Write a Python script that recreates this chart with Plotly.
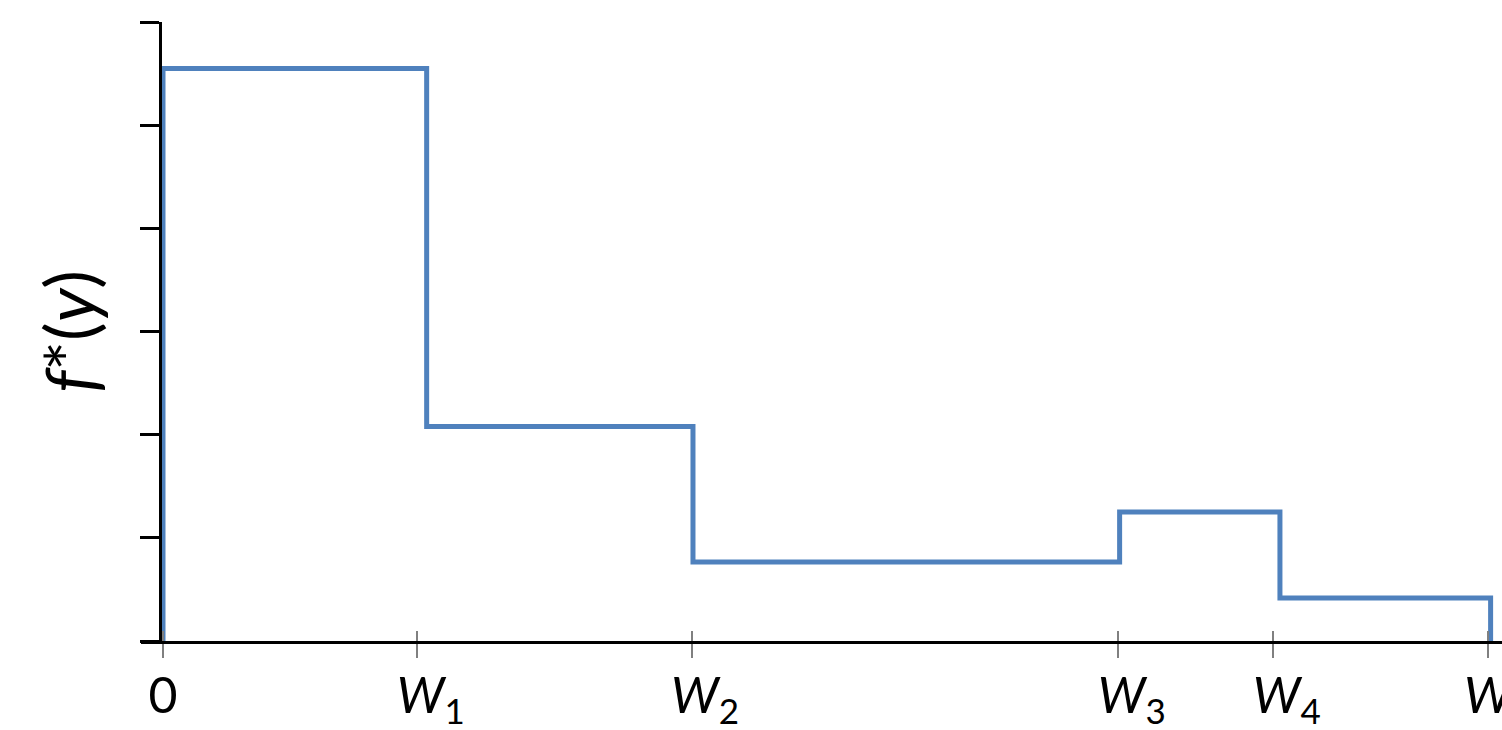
import plotly.graph_objects as go

# Step function: breakpoints along y (normalized so that W = 10) and levels of f*(y)
breakpoints = [0.0, 1.99, 4.0, 7.22, 8.43, 10.02]
levels = [5.55, 2.08, 0.765, 1.25, 0.417]

# Axis ticks
x_tickvals = [0.0, 1.92, 3.99, 7.21, 8.38, 10.0]
PAD = "<sub>&nbsp;&nbsp;&nbsp;</sub>"
x_ticktext = ["0", PAD + "<i>W</i><sub>1</sub>", PAD + "<i>W</i><sub>2</sub>",
              PAD + "<i>W</i><sub>3</sub>", PAD + "<i>W</i><sub>4</sub>", "<i>W</i>"]
y_tickvals = [0, 1, 2, 3, 4, 5, 6]

# build step polyline (hv)
xs = [breakpoints[0]] + breakpoints[:-1] + [breakpoints[-1]]
ys = [0] + levels + [0]

BLUE = "#4F81BD"
FONT = "Lato"

fig = go.Figure()
fig.add_trace(go.Scatter(x=xs, y=ys, mode="lines", line=dict(color=BLUE, width=5, shape="hv"),
                         showlegend=False, hoverinfo="skip"))

xrange = [-0.166, 10.106]
fig.update_layout(
    width=1502, height=730,
    margin=dict(l=141, r=0, t=22, b=89, autoexpand=False),
    paper_bgcolor="white", plot_bgcolor="white",
    font=dict(family=FONT, color="black", size=50),
    xaxis=dict(
        range=xrange, domain=[0, 1], anchor="y", automargin=False,
        showline=True, linecolor="black", linewidth=3,
        showgrid=False, zeroline=False,
        tickmode="array", tickvals=x_tickvals, ticktext=x_ticktext,
        ticks="outside", ticklen=14, tickwidth=2, tickcolor="#808080",
        tickfont=dict(family=FONT, size=50, color="black"),
        ticklabelstandoff=-5, ticklabeloverflow="allow",
    ),
    xaxis2=dict(
        range=xrange, overlaying="x", anchor="y", side="bottom", automargin=False,
        showline=False, showgrid=False, zeroline=False,
        tickmode="array", tickvals=x_tickvals, showticklabels=False,
        ticks="inside", ticklen=10, tickwidth=2, tickcolor="#808080",
    ),
    yaxis=dict(
        range=[0, 6], anchor="free", position=19 / 1361, automargin=False,
        showline=True, linecolor="black", linewidth=3,
        showgrid=False, zeroline=False,
        tickmode="array", tickvals=y_tickvals, showticklabels=False,
        ticks="outside", ticklen=19, tickwidth=3, tickcolor="black",
        title=dict(text="<i>f</i>*(<i>y</i>)", font=dict(family=FONT, size=70, color="black"),
                   standoff=19),
    ),
)
# dummy trace to activate xaxis2
fig.add_trace(go.Scatter(x=[None], y=[None], xaxis="x2", showlegend=False, hoverinfo="skip"))

fig.write_html("out.html", config={"displayModeBar": False},
               post_script="document.body.style.margin='0';document.body.style.overflow='hidden';")
